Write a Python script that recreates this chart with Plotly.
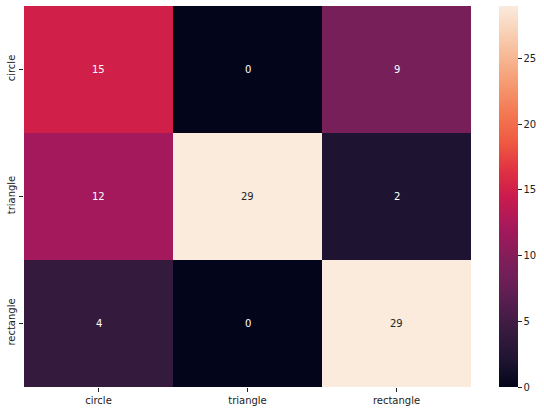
import plotly.graph_objects as go

labels = ["circle", "triangle", "rectangle"]
values = [
    [15, 0, 9],
    [12, 29, 2],
    [4, 0, 29],
]
cbar_ticks = [0, 5, 10, 15, 20, 25]

# seaborn "rocket" colormap (sampled)
rocket = [
    [0.0, "#03051a"],
    [0.069, "#1e1431"],
    [0.138, "#341a3c"],
    [0.2, "#4c1d4b"],
    [0.286, "#701f57"],
    [0.31, "#761f59"],
    [0.414, "#a3195b"],
    [0.5, "#cb1b4f"],
    [0.517, "#d0204a"],
    [0.571, "#e13342"],
    [0.643, "#ef5a41"],
    [0.714, "#f37651"],
    [0.786, "#f5966d"],
    [0.857, "#f6b48f"],
    [0.929, "#f8d0b4"],
    [1.0, "#faebdd"],
]

vmin, vmax = 0, 29

fig = go.Figure(go.Heatmap(
    z=values, x=labels, y=labels,
    zmin=vmin, zmax=vmax, colorscale=rocket,
    colorbar=dict(
        x=(499 - 24) / 447, xanchor="left", xpad=0,
        y=0.5, yanchor="middle", len=1, lenmode="fraction", ypad=0,
        thickness=19, outlinewidth=0,
        tickvals=cbar_ticks, ticks="outside", ticklen=4, tickwidth=1,
        tickcolor="#222", tickfont=dict(family="DejaVu Sans", size=10, color="#222"),
    ),
    hoverinfo="skip",
))

annotations = []
for i, row in enumerate(values):
    for j, v in enumerate(row):
        frac = (v - vmin) / (vmax - vmin)
        annotations.append(dict(
            x=labels[j], y=labels[i], text=str(v), showarrow=False,
            font=dict(family="DejaVu Sans", size=10,
                      color="#262626" if frac > 0.6 else "white"),
        ))

fig.update_layout(
    width=544, height=411,
    margin=dict(l=24, r=73, t=6, b=24),
    paper_bgcolor="white", plot_bgcolor="white",
    annotations=annotations,
    font=dict(family="DejaVu Sans", size=10, color="#222"),
)
fig.update_xaxes(ticks="outside", ticklen=4, tickcolor="#222", showgrid=False, zeroline=False,
                 tickfont=dict(size=10))
fig.update_yaxes(autorange="reversed", ticks="outside", ticklen=4, tickcolor="#222",
                 tickangle=-90, showgrid=False, zeroline=False, tickfont=dict(size=10))

fig.write_html("out.html")
